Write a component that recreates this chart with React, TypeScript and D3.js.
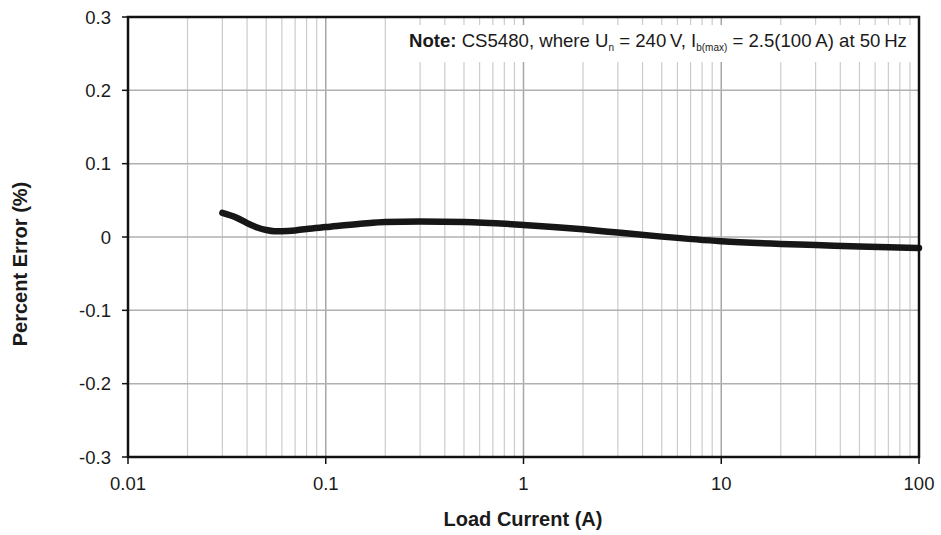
import React from "react";
import * as d3 from "d3";

const W = 941;
const H = 535;

const loadCurrent = [0.03, 0.035, 0.04, 0.045, 0.05, 0.055, 0.06, 0.07, 0.08, 0.1, 0.15, 0.2, 0.3, 0.5, 1, 2, 3, 5, 10, 20, 30, 50, 100];
const percentError = [0.033, 0.027, 0.019, 0.013, 0.0095, 0.008, 0.008, 0.009, 0.011, 0.0135, 0.018, 0.0205, 0.021, 0.0205, 0.0165, 0.0105, 0.006, 0.0005, -0.0058, -0.0095, -0.011, -0.013, -0.015];

const xTickValues = [0.01, 0.1, 1, 10, 100];
const xTickLabels = ["0.01", "0.1", "1", "10", "100"];
const yTickValues = [-0.3, -0.2, -0.1, 0, 0.1, 0.2, 0.3];
const yTickLabels = ["-0.3", "-0.2", "-0.1", "0", "0.1", "0.2", "0.3"];

const FONT = "'Liberation Sans', Arial, sans-serif";

export default function App() {
  const left = 128, right = 919, top = 17, bottom = 457;
  const x = d3.scaleLog().domain([0.01, 100]).range([left, right]);
  const y = d3.scaleLinear().domain([-0.3, 0.3]).range([bottom, top]);

  const minor: number[] = [];
  for (let e = -2; e < 2; e++) {
    for (let m = 2; m <= 9; m++) minor.push(m * Math.pow(10, e));
  }

  const line = d3
    .line<number>()
    .x((_, i) => x(loadCurrent[i]))
    .y((d) => y(d))
    .curve(d3.curveMonotoneX);

  return (
    <svg width={W} height={H} style={{ position: "absolute", left: 0, top: 0, background: "#fff" }} fontFamily={FONT}>
      <rect x={0} y={0} width={W} height={H} fill="#fff" />
      {minor.map((v, i) => (
        <line key={"mn" + i} x1={x(v)} x2={x(v)} y1={top} y2={bottom} stroke="#cccccc" strokeWidth={1.2} />
      ))}
      {xTickValues.map((v, i) => (
        <line key={"mj" + i} x1={x(v)} x2={x(v)} y1={top} y2={bottom} stroke="#a6a6a6" strokeWidth={1.5} />
      ))}
      {yTickValues.map((v, i) => (
        <line key={"hg" + i} x1={left} x2={right} y1={y(v)} y2={y(v)} stroke="#b0b0b0" strokeWidth={1.5} />
      ))}
      {/* note box */}
      <rect x={388} y={25} width={right - 388} height={37} fill="#fff" />
      <text x={409} y={47} fontSize={18.6} fill="#1a1a1a">
        <tspan fontWeight="bold">Note:</tspan>
        <tspan> CS5480, where U</tspan>
        <tspan fontSize={10} dy={4}>n</tspan>
        <tspan dy={-4}> = 240{"\u2009"}V, I</tspan>
        <tspan fontSize={10} dy={4}>b(max)</tspan>
        <tspan dy={-4}> = 2.5(100{"\u2009"}A) at 50{"\u2009"}Hz</tspan>
      </text>
      {/* curve */}
      <path d={line(percentError) || ""} fill="none" stroke="#161616" strokeWidth={6.5} strokeLinecap="round" />
      {/* frame */}
      <rect x={left} y={top} width={right - left} height={bottom - top} fill="none" stroke="#111" strokeWidth={2.5} />
      {/* y ticks */}
      {yTickValues.map((v, i) => (
        <g key={"yt" + i}>
          <line x1={left - 6} x2={left} y1={y(v)} y2={y(v)} stroke="#111" strokeWidth={1.5} />
          <text x={111} y={y(v) + 6.5} textAnchor="end" fontSize={18.5} fill="#1a1a1a">
            {yTickLabels[i]}
          </text>
        </g>
      ))}
      {/* x ticks */}
      {xTickValues.map((v, i) => (
        <g key={"xt" + i}>
          <line x1={x(v)} x2={x(v)} y1={bottom} y2={bottom + 7} stroke="#111" strokeWidth={1.5} />
          <text x={x(v)} y={490} textAnchor="middle" fontSize={18.5} fill="#1a1a1a">
            {xTickLabels[i]}
          </text>
        </g>
      ))}
      <text x={523} y={526} textAnchor="middle" fontSize={20} fontWeight="bold" fill="#1a1a1a">
        Load Current (A)
      </text>
      <text transform="translate(27,264) rotate(-90)" textAnchor="middle" fontSize={20} fontWeight="bold" fill="#1a1a1a">
        Percent Error (%)
      </text>
    </svg>
  );
}
